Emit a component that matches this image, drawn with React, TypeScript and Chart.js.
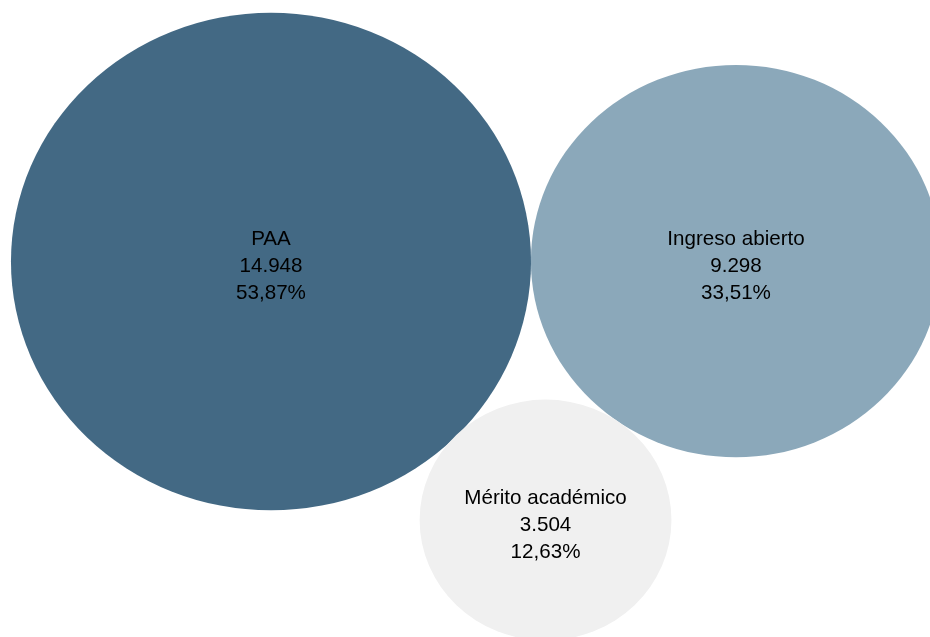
import React, { useEffect, useRef } from "react";
import { Chart, registerables } from "chart.js";

Chart.register(...registerables);

// Data
const categories = ["PAA", "Ingreso abierto", "Mérito académico"];
const counts = [14948, 9298, 3504];
const percents = [53.87, 33.51, 12.63];
// bubble centres in data space (packed layout)
const xCenters = [29.14, 79.14, 58.66];
const yCenters = [42.2, 42.25, 13.15];
const bubbleColors = ["#436984", "#8ba8ba", "#f0f0f0"];

const SIZE_PER_SQRT = 0.2287; // radius in x-units per sqrt(count)

const fmtInt = (n: number) => String(n).replace(/\B(?=(\d{3})+(?!\d))/g, ".");
const fmtPct = (p: number) => p.toFixed(2).replace(".", ",") + "%";

const bubblePlugin = {
  id: "ellipseBubbles",
  afterDatasetsDraw(chart: any) {
    const ctx = chart.ctx;
    const xs = chart.scales.x;
    const ys = chart.scales.y;
    ctx.save();
    categories.forEach((_, i) => {
      const r = SIZE_PER_SQRT * Math.sqrt(counts[i]);
      const cx = xs.getPixelForValue(xCenters[i]);
      const cy = ys.getPixelForValue(yCenters[i]);
      const rx = Math.abs(xs.getPixelForValue(xCenters[i] + r) - cx);
      const ry = Math.abs(cy - ys.getPixelForValue(yCenters[i] + r));
      ctx.beginPath();
      ctx.ellipse(cx, cy, rx, ry, 0, 0, Math.PI * 2);
      ctx.fillStyle = bubbleColors[i];
      ctx.fill();
    });
    ctx.fillStyle = "#000";
    ctx.font = '20.6px "Liberation Sans", Arial, sans-serif';
    ctx.textAlign = "center";
    ctx.textBaseline = "alphabetic";
    categories.forEach((name, i) => {
      const cx = xs.getPixelForValue(xCenters[i]);
      const cy = ys.getPixelForValue(yCenters[i]);
      const lines = [name, fmtInt(counts[i]), fmtPct(percents[i])];
      lines.forEach((t, j) => {
        ctx.fillText(t, cx, cy + 10.5 + (j - 1) * 27);
      });
    });
    ctx.restore();
  },
};

export default function App() {
  const ref = useRef<HTMLCanvasElement | null>(null);
  useEffect(() => {
    if (!ref.current) return;
    const chart = new Chart(ref.current, {
      type: "scatter",
      data: {
        datasets: [
          {
            label: "Ingreso",
            data: categories.map((_, i) => ({ x: xCenters[i], y: yCenters[i] })),
            pointRadius: 0,
            pointHoverRadius: 0,
          },
        ],
      },
      options: {
        animation: false,
        responsive: false,
        layout: { padding: 0 },
        scales: {
          x: { type: "linear", min: 0, max: 100, display: false },
          y: { type: "linear", min: 0, max: 71.6, display: false },
        },
        plugins: { legend: { display: false }, tooltip: { enabled: false } },
        events: [],
      },
      plugins: [bubblePlugin],
    });
    return () => chart.destroy();
  }, []);
  return (
    <div style={{ position: "fixed", left: 0, top: 0, width: 930, height: 637, background: "#fff" }}>
      <canvas ref={ref} width={930} height={637} style={{ display: "block" }} />
    </div>
  );
}
